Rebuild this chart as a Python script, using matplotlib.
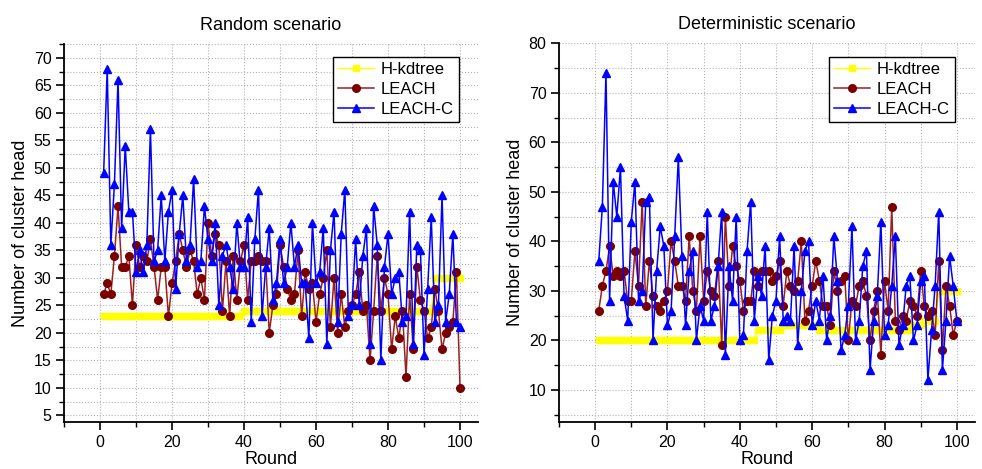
import numpy as np
import matplotlib
matplotlib.use("Agg")
import matplotlib.pyplot as plt
from matplotlib.ticker import MultipleLocator

plt.rcParams['font.family'] = ['Liberation Sans', 'DejaVu Sans']

rounds = np.arange(1, 101)

# Random scenario
leach_random = [27, 29, 27, 34, 43, 32, 32, 34, 25, 36,
                32, 34, 33, 37, 32, 26, 32, 32, 23, 29,
                33, 38, 35, 32, 35, 33, 27, 30, 26, 40,
                34, 38, 36, 24, 33, 23, 34, 26, 33, 36,
                26, 33, 33, 34, 33, 33, 20, 25, 27, 36,
                32, 28, 26, 27, 35, 23, 31, 28, 29, 22,
                27, 30, 35, 21, 30, 20, 27, 21, 24, 25,
                27, 31, 24, 25, 15, 24, 34, 24, 30, 27,
                17, 23, 19, 24, 12, 27, 17, 32, 26, 24,
                19, 21, 28, 24, 17, 20, 21, 22, 31, 10]
leachc_random = [49, 68, 36, 47, 66, 39, 54, 42, 42, 31,
                 35, 31, 36, 57, 33, 35, 45, 33, 42, 46,
                 28, 38, 45, 33, 36, 48, 32, 33, 43, 37,
                 33, 40, 25, 34, 36, 32, 28, 40, 32, 32,
                 41, 22, 37, 46, 23, 32, 39, 26, 29, 37,
                 29, 32, 40, 32, 36, 29, 29, 19, 40, 29,
                 31, 39, 18, 35, 42, 22, 38, 46, 23, 25,
                 37, 25, 34, 39, 18, 43, 36, 15, 32, 38,
                 27, 30, 31, 22, 23, 42, 18, 36, 35, 16,
                 28, 41, 22, 25, 45, 22, 27, 38, 22, 21]
kd_random_levels = [23, 24, 30]
kd_random_runs = [39, 53, 8]

# Deterministic scenario
leach_det = [26, 31, 34, 39, 33, 34, 33, 34, 28, 28,
             38, 31, 48, 27, 36, 29, 27, 26, 28, 30,
             40, 36, 31, 31, 28, 41, 30, 26, 41, 28,
             34, 30, 29, 36, 19, 45, 31, 39, 35, 32,
             26, 28, 28, 34, 31, 34, 34, 34, 32, 33,
             36, 27, 34, 31, 30, 32, 40, 24, 26, 31,
             36, 32, 27, 27, 23, 34, 30, 32, 33, 20,
             28, 27, 31, 32, 29, 20, 26, 30, 17, 32,
             26, 47, 24, 22, 25, 24, 28, 27, 25, 34,
             27, 25, 26, 21, 36, 18, 31, 27, 21, 24]
leachc_det = [36, 47, 74, 28, 52, 45, 55, 29, 24, 44,
              52, 28, 30, 48, 49, 20, 34, 43, 39, 23,
              26, 41, 57, 37, 23, 34, 38, 20, 27, 24,
              46, 24, 27, 35, 46, 17, 35, 28, 45, 20,
              21, 38, 48, 24, 33, 29, 39, 16, 25, 28,
              41, 24, 25, 24, 39, 19, 30, 38, 40, 23,
              28, 24, 33, 20, 25, 41, 32, 18, 21, 27,
              43, 20, 24, 35, 38, 14, 24, 29, 44, 21,
              23, 31, 41, 19, 23, 31, 33, 20, 23, 32,
              33, 12, 22, 31, 46, 14, 24, 37, 31, 24]
kd_det_levels = [20, 22, 23, 22, 23, 24, 30]
kd_det_runs = [44, 7, 10, 26, 3, 4, 6]

kd_random = np.repeat(kd_random_levels, kd_random_runs)
kd_det = np.repeat(kd_det_levels, kd_det_runs)

fig = plt.figure(figsize=(9.82, 4.69), dpi=100)
ax1 = fig.add_axes([0.0652, 0.1002, 0.4216, 0.806])
ax2 = fig.add_axes([0.5692, 0.1002, 0.4236, 0.8075])


def draw(ax, kd, leach, leachc, title, ylim, ymaj, ymin, legend_anchor):
    ax.plot(rounds, kd, color='#ffff00', lw=1, marker='s', ms=4.8,
            mec='#ffff00', mfc='#ffff00', label='H-kdtree', zorder=3)
    ax.plot(rounds, leach, color='#9a2020', lw=1.1, marker='o', ms=5.5,
            mec='#7a0000', mfc='#7a0000', label='LEACH', zorder=4)
    ax.plot(rounds, leachc, color='#0000ff', lw=1.1, marker='^', ms=6,
            mec='#0000ff', mfc='#0000ff', label='LEACH-C', zorder=5)

    ax.set_xlim(-10, 105)
    ax.set_ylim(*ylim)
    ax.xaxis.set_major_locator(MultipleLocator(20))
    ax.xaxis.set_minor_locator(MultipleLocator(10))
    ax.yaxis.set_major_locator(MultipleLocator(ymaj))
    ax.yaxis.set_minor_locator(MultipleLocator(ymin))
    ax.grid(which='both', ls=':', color='#b4b4b4', lw=0.8)
    ax.set_axisbelow(True)

    for s in ['top', 'right']:
        ax.spines[s].set_visible(False)
    for s in ['left', 'bottom']:
        ax.spines[s].set_linewidth(1.3)
    ax.tick_params(which='major', direction='out', length=6, width=1.2,
                   labelsize=11.5, pad=3)
    ax.tick_params(which='minor', direction='out', length=3.5, width=1)

    ax.set_title(title, fontsize=13, pad=10)
    ax.set_xlabel('Round', fontsize=13, labelpad=1)
    ax.set_ylabel('Number of cluster head', fontsize=13, labelpad=3)

    leg = ax.legend(loc='upper right', bbox_to_anchor=legend_anchor,
                    borderaxespad=0, fontsize=12, fancybox=False,
                    edgecolor='black', framealpha=1, handlelength=2.2,
                    handletextpad=0.4, labelspacing=0.3, borderpad=0.3)
    leg.get_frame().set_linewidth(1)


draw(ax1, kd_random, leach_random, leachc_random, 'Random scenario',
     (3.8, 72.5), 5, 2.5, (0.954, 0.966))
draw(ax2, kd_det, leach_det, leachc_det, 'Deterministic scenario',
     (3.5, 80), 10, 5, (0.952, 0.964))

fig.savefig('out.png', dpi=100)
